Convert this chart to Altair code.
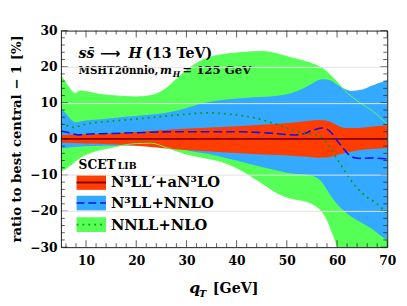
import altair as alt
import pandas as pd

# ---------------- data ----------------
qT_green = [5, 6, 7, 7.5, 8, 8.5, 9, 10, 12, 15, 18, 20, 23, 26, 28, 30, 33.5, 37, 40, 45, 48.5, 51, 53.8, 56, 57.7, 59.5, 60.9, 62, 64.8, 67, 70]
green_hi = [17.5, 15.5, 13.5, 12.8, 12.6, 13.2, 13.3, 13.1, 12.5, 12.0, 11.7, 11.6, 12.0, 14.0, 16.5, 19.0, 22.0, 23.3, 23.8, 24.2, 23.4, 22.4, 21.4, 20.3, 18.9, 16.5, 14.3, 12.8, 9.8, 7.8, 4.0]
green_lo = [-8.9, -8.2, -7.2, -6.7, -6.0, -5.5, -5.0, -4.3, -3.3, -2.4, -1.6, -1.3, -1.2, -2.4, -3.3, -4.2, -5.2, -6.3, -8.0, -12.2, -15.3, -16.5, -17.3, -18.8, -21.5, -27.5, -33.0, -35.0, -35.0, -35.0, -35.0]

qT_blue = [5, 6, 7, 8, 9, 11, 14, 17.7, 22, 28, 31, 34.4, 38, 42.2, 45, 48.5, 51, 53, 55, 57, 58.3, 60.3, 61.6, 62.8, 65, 67, 69.4, 70]
blue_hi = [8.4, 7.0, 5.4, 4.6, 4.9, 5.2, 5.6, 6.1, 6.6, 7.8, 9.0, 10.2, 10.9, 11.4, 11.6, 12.0, 12.7, 13.8, 15.3, 16.5, 16.4, 14.8, 13.8, 13.3, 13.7, 14.8, 16.0, 16.2]
blue_lo = [-2.6, -2.5, -2.3, -2.2, -2.1, -2.0, -1.9, -1.8, -1.9, -2.6, -3.4, -4.2, -5.4, -6.8, -7.8, -8.9, -9.6, -9.8, -10.2, -12.0, -14.8, -18.5, -20.2, -21.5, -23.3, -25.0, -27.5, -27.9]

qT_red = [5, 10, 15, 20, 27, 34, 40, 45, 48.5, 52, 54.5, 56.4, 58.5, 60, 61.6, 64, 67, 70]
red_hi = [1.1, 1.3, 1.5, 1.9, 2.6, 3.1, 3.5, 3.9, 4.2, 4.6, 5.0, 5.2, 4.8, 3.8, 3.0, 3.0, 3.4, 3.8]
red_lo = [-1.1, -1.3, -1.5, -1.9, -2.8, -3.4, -3.9, -4.3, -4.5, -4.8, -5.0, -5.2, -5.1, -4.5, -3.9, -3.2, -2.8, -2.5]

qT_central = [5, 70]
central = [0, 0]

qT_dash = [5, 6, 7, 8.5, 10, 15, 20, 28, 34, 39.5, 44, 46.7, 50, 52, 53.5, 55, 57, 58, 59, 60.3, 61.2, 62.5, 63.5, 65, 66.8, 70]
dash_val = [2.1, 1.9, 1.5, 1.1, 1.3, 1.5, 1.7, 2.0, 2.0, 2.0, 1.8, 1.6, 1.2, 1.1, 1.5, 2.3, 3.0, 2.7, 1.5, -1.0, -2.5, -4.6, -5.2, -5.4, -5.3, -5.6]

qT_dot = [5, 6, 7.5, 8.5, 10, 15, 20, 28, 34.4, 38, 42.2, 45, 48, 51, 53.7, 56.4, 58, 60, 61.6, 63.6, 65.8, 68, 70]
dot_val = [4.3, 3.8, 3.2, 3.5, 4.1, 4.9, 5.5, 6.6, 7.2, 6.9, 6.2, 5.3, 4.0, 2.5, 1.5, 0.8, -1.2, -5.5, -9.0, -13.0, -16.0, -18.0, -20.8]

x_major = [10, 20, 30, 40, 50, 60, 70]
x_minor = [6, 8, 12, 14, 16, 18, 22, 24, 26, 28, 32, 34, 36, 38, 42, 44, 46, 48, 52, 54, 56, 58, 62, 64, 66, 68]
y_major = [-30, -20, -10, 0, 10, 20, 30]
y_minor = [-28, -26, -24, -22, -18, -16, -14, -12, -8, -6, -4, -2, 2, 4, 6, 8, 12, 14, 16, 18, 22, 24, 26, 28]
y_grid = [-20, -10, 10, 20]

legend_title = ["SCET", "LIB"]
legend_labels = ["N\u00b3LL\u2032+aN\u00b3LO", "N\u00b3LL+NNLO", "NNLL+NLO"]

# ---------------- style ----------------
W, H = 333, 221
FONT = "DejaVu Serif"
C_GREEN = "#55ff55"
C_BLUE = "#33aaff"
C_RED = "#ff3d00"
C_DARKRED = "#8b0000"
C_DASH = "#1010ee"
C_DOT = "#0a9a0a"
FRAME = "#1a1a1a"

xs = alt.Scale(domain=[5, 70], nice=False, zero=False)
ys = alt.Scale(domain=[-30, 30], nice=False, zero=False)


def ax(**kw):
    base = dict(title=None, grid=False, labels=False, ticks=False, domain=False, zindex=1)
    base.update(kw)
    return alt.Axis(**base)


lab_style = dict(labels=True, labelFont=FONT, labelFontWeight="bold", labelFontSize=12.5,
                 labelColor="black", tickSize=0, labelFlush=False, domain=True,
                 domainColor=FRAME, domainWidth=1)

ax_x_lab = ax(orient="bottom", values=x_major, labelPadding=8, **lab_style)
ax_y_lab = ax(orient="left", values=y_major, labelPadding=4, **lab_style)
ax_x_top = ax(orient="top", values=x_major, domain=True, domainColor=FRAME, domainWidth=1)
ax_y_right = ax(orient="right", values=y_major, domain=True, domainColor=FRAME, domainWidth=1)
ax_y_grid = ax(orient="left", values=y_grid, grid=True, gridColor="#e2e2e2", gridWidth=1)


def X(axis):
    return alt.X("qT:Q", scale=xs, axis=axis)


def Y(field, axis):
    return alt.Y(f"{field}:Q", scale=ys, axis=axis)


green_df = pd.DataFrame({"qT": qT_green, "lo": green_lo, "hi": green_hi})
blue_df = pd.DataFrame({"qT": qT_blue, "lo": blue_lo, "hi": blue_hi})
red_df = pd.DataFrame({"qT": qT_red, "lo": red_lo, "hi": red_hi})
central_df = pd.DataFrame({"qT": qT_central, "v": central})
dash_df = pd.DataFrame({"qT": qT_dash, "v": dash_val})
dot_df = pd.DataFrame({"qT": qT_dot, "v": dot_val})
one = pd.DataFrame({"k": [0]})

layers = [
    alt.Chart(green_df).mark_area(color=C_GREEN, interpolate="monotone", clip=True)
    .encode(x=X(ax_x_lab), y=Y("lo", ax_y_lab), y2="hi:Q"),
    alt.Chart(blue_df).mark_area(color=C_BLUE, interpolate="monotone", clip=True)
    .encode(x=X(ax_x_top), y=Y("lo", ax_y_right), y2="hi:Q"),
    alt.Chart(red_df).mark_area(color=C_RED, interpolate="monotone", clip=True)
    .encode(x=X(None), y=Y("lo", None), y2="hi:Q"),
    alt.Chart(green_df).mark_line(color=C_GREEN, strokeWidth=1, interpolate="monotone", clip=True)
    .encode(x=X(None), y=Y("hi", None)),
    alt.Chart(green_df).mark_line(color=C_GREEN, strokeWidth=1, interpolate="monotone", clip=True)
    .encode(x=X(None), y=Y("lo", None)),
    alt.Chart(central_df).mark_line(color=C_DARKRED, strokeWidth=2, clip=True)
    .encode(x=X(None), y=Y("v", None)),
    alt.Chart(dash_df).mark_line(color=C_DASH, strokeWidth=1.6, strokeDash=[9, 4], interpolate="monotone", clip=True)
    .encode(x=X(None), y=Y("v", ax_y_grid)),
    alt.Chart(dot_df).mark_line(color=C_DOT, strokeWidth=1.8, strokeDash=[1.8, 4.2], interpolate="monotone", clip=True)
    .encode(x=X(None), y=Y("v", None)),
]

# inward ticks on all four sides, placed through the scales
for vals, size in ((x_major, 7), (x_minor, 4)):
    tdf = pd.DataFrame({"v": vals})
    for ypix in (H - size / 2, size / 2):
        layers.append(alt.Chart(tdf).mark_tick(orient="vertical", size=size, thickness=1, color=FRAME)
                      .encode(x=alt.X("v:Q", scale=xs, axis=None), y=alt.value(ypix)))
for vals, size in ((y_major, 7), (y_minor, 4)):
    tdf = pd.DataFrame({"v": vals})
    for xpix in (size / 2, W - size / 2):
        layers.append(alt.Chart(tdf).mark_tick(orient="horizontal", size=size, thickness=1, color=FRAME)
                      .encode(y=alt.Y("v:Q", scale=ys, axis=None), x=alt.value(xpix)))


def text(txt, x, y, size, style="normal", weight="bold", align="left", baseline="alphabetic", angle=0, font=FONT):
    return alt.Chart(one).mark_text(text=txt, font=font, fontSize=size, fontStyle=style, fontWeight=weight,
                                    align=align, baseline=baseline, angle=angle, color="black") \
        .encode(x=alt.value(x), y=alt.value(y))


# legend
patch_y = [(147.5, 162.5), (168.5, 183.5), (190.5, 205.5)]
patch_fill = [C_RED, C_BLUE, C_GREEN]
line_style = [dict(color=C_DARKRED, strokeWidth=2),
              dict(color=C_DASH, strokeWidth=1.6, strokeDash=[8, 4]),
              dict(color=C_DOT, strokeWidth=1.8, strokeDash=[1.8, 4.2])]
for (y0, y1), fill, ls, lbl in zip(patch_y, patch_fill, line_style, legend_labels):
    layers.append(alt.Chart(one).mark_rect(color=fill)
                  .encode(x=alt.value(16), x2=alt.value(46), y=alt.value(y0), y2=alt.value(y1)))
    layers.append(alt.Chart(one).mark_rule(**ls)
                  .encode(x=alt.value(16), x2=alt.value(46), y=alt.value((y0 + y1) / 2)))
    layers.append(text(lbl, 51, (y0 + y1) / 2, 15, baseline="middle"))

layers.append(text(legend_title[0], 18, 141, 12.5))
layers.append(text(legend_title[1], 58, 141, 9.5))

# annotations
layers.append(text("ss\u0304", 18, 27.5, 14.5, style="italic"))
layers.append(text("\u27f6", 40, 27.5, 14.5, font="DejaVu Sans"))
layers.append(text("H", 69, 27.5, 14.5, style="italic"))
layers.append(text("(13 TeV)", 86, 27.5, 14.5))
layers.append(text("MSHT20nnlo,", 18, 44, 10.5))
layers.append(text("m", 101, 44, 11.5, style="italic"))
layers.append(text("H", 114, 47, 8, style="italic"))
layers.append(text("=", 124, 44, 11.5))
layers.append(text("125 GeV", 138, 44, 12))

# axis titles
layers.append(text("ratio to best central \u2212 1 [%]", -45, H / 2, 13.5, align="center", baseline="middle", angle=270))
layers.append(text("q", 131, 267.5, 16, style="italic"))
layers.append(text("T", 141, 271.5, 10, style="italic"))
layers.append(text("[GeV]", 155, 268, 14.5))

chart = alt.layer(*layers).resolve_axis(x="independent", y="independent").properties(
    width=W, height=H,
    autosize=alt.AutoSizeParams(type="none"),
    padding={"left": 54, "top": 20, "right": 12, "bottom": 58},
).configure_view(stroke=None)

chart.save("out.html", embed_options={"renderer": "svg", "actions": False})
